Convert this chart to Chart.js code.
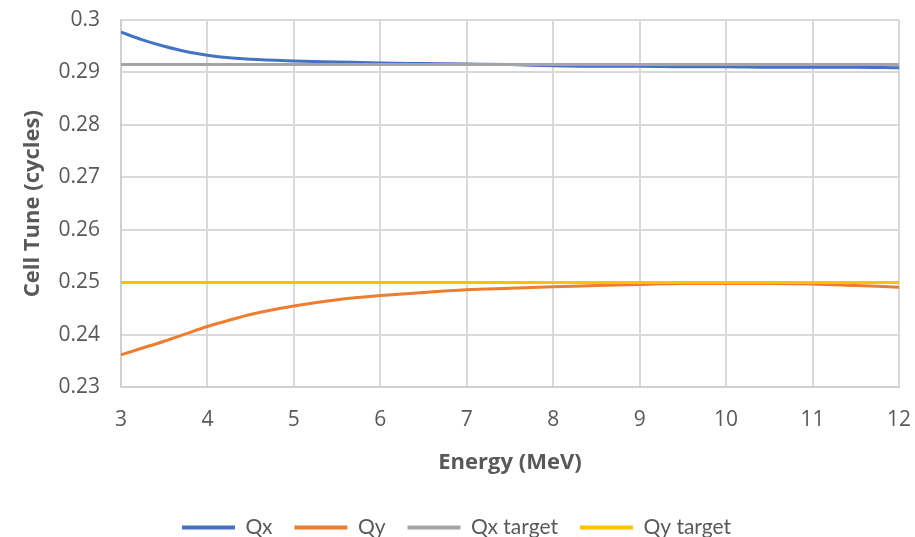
<!DOCTYPE html>
<html>
<head>
<meta charset="utf-8">
<script src="https://cdn.jsdelivr.net/npm/chart.js@4"></script>
<style>
html,body{margin:0;padding:0;background:#fff;}
#wrap{width:915px;height:537px;}
</style>
</head>
<body>
<div id="wrap"><canvas id="c" width="915" height="537"></canvas></div>
<script>
const energy = [3, 3.25, 3.5, 3.75, 4, 4.25, 4.5, 5, 5.5, 6, 6.5, 7, 7.5, 8, 8.5, 9, 9.5, 10, 10.5, 11, 11.5, 12];
const qx = [0.2977, 0.2962, 0.2950, 0.2940, 0.2933, 0.2928, 0.2925, 0.2922, 0.2920, 0.2918, 0.2917, 0.2916, 0.2915, 0.2913, 0.2912, 0.2912, 0.2911, 0.2911, 0.2910, 0.2910, 0.2910, 0.2909];
const qy = [0.2362, 0.2375, 0.2388, 0.2402, 0.2416, 0.2428, 0.2439, 0.2455, 0.2467, 0.2475, 0.2481, 0.2486, 0.2489, 0.2492, 0.2494, 0.2496, 0.2498, 0.2498, 0.2498, 0.2497, 0.2494, 0.2491];
const qxTarget = 0.2915;
const qyTarget = 0.25;
const seriesNames = ["Qx", "Qy", "Qx target", "Qy target"];
const seriesColors = ["#4472C4", "#ED7D31", "#A5A5A5", "#FFC000"];

const pts = (ys) => energy.map((e, i) => ({x: e, y: ys[i]}));
const flat = (v) => [{x: energy[0], y: v}, {x: energy[energy.length - 1], y: v}];

const TXT = "#595959";
const FONT = "'Open Sans', 'Noto Sans', sans-serif";

new Chart(document.getElementById('c'), {
  type: 'line',
  data: {
    datasets: [
      {label: seriesNames[0], data: pts(qx), borderColor: seriesColors[0], backgroundColor: seriesColors[0], order: 4},
      {label: seriesNames[1], data: pts(qy), borderColor: seriesColors[1], backgroundColor: seriesColors[1], order: 3},
      {label: seriesNames[2], data: flat(qxTarget), borderColor: seriesColors[2], backgroundColor: seriesColors[2], order: 2},
      {label: seriesNames[3], data: flat(qyTarget), borderColor: seriesColors[3], backgroundColor: seriesColors[3], order: 1}
    ]
  },
  options: {
    responsive: false,
    animation: false,
    elements: {
      point: {radius: 0},
      line: {borderWidth: 3, cubicInterpolationMode: 'monotone'}
    },
    layout: {padding: {left: 14, right: 16, top: 20, bottom: -11}},
    scales: {
      x: {
        type: 'linear', min: 3, max: 12,
        afterFit: (s) => { s.paddingRight = 0; s.paddingLeft = 0; },
        ticks: {stepSize: 1, color: TXT, font: {family: FONT, size: 21}, padding: 20},
        grid: {color: '#d9d9d9', lineWidth: 2, drawTicks: false},
        border: {color: '#d0d0d0', width: 2},
        title: {display: true, text: 'Energy (MeV)', color: TXT, font: {family: FONT, size: 22, weight: 'bold'}, padding: {top: -3, bottom: 19}}
      },
      y: {
        min: 0.23, max: 0.3,
        afterFit: (s) => { s.paddingTop = 0; s.paddingBottom = 0; },
        ticks: {stepSize: 0.01, color: TXT, font: {family: FONT, size: 21}, padding: 21,
          callback: (v) => Number(v.toFixed(2)).toString()},
        grid: {color: '#d9d9d9', lineWidth: 2, drawTicks: false},
        border: {color: '#d0d0d0', width: 2},
        title: {display: true, text: 'Cell Tune (cycles)', color: TXT, font: {family: FONT, size: 22, weight: 'bold'}, padding: {top: 6, bottom: -9}}
      }
    },
    plugins: {
      tooltip: {enabled: false},
      legend: {
        position: 'bottom',
        labels: {
          color: TXT, font: {family: "Lato, 'Open Sans', sans-serif", size: 21}, boxWidth: 53, boxHeight: 4, padding: 22,
          sort: (a, b) => a.datasetIndex - b.datasetIndex,
          generateLabels: (chart) => Chart.defaults.plugins.legend.labels.generateLabels(chart).map(l => Object.assign(l, {lineWidth: 0}))
        }
      }
    }
  }
});
</script>
</body>
</html>
